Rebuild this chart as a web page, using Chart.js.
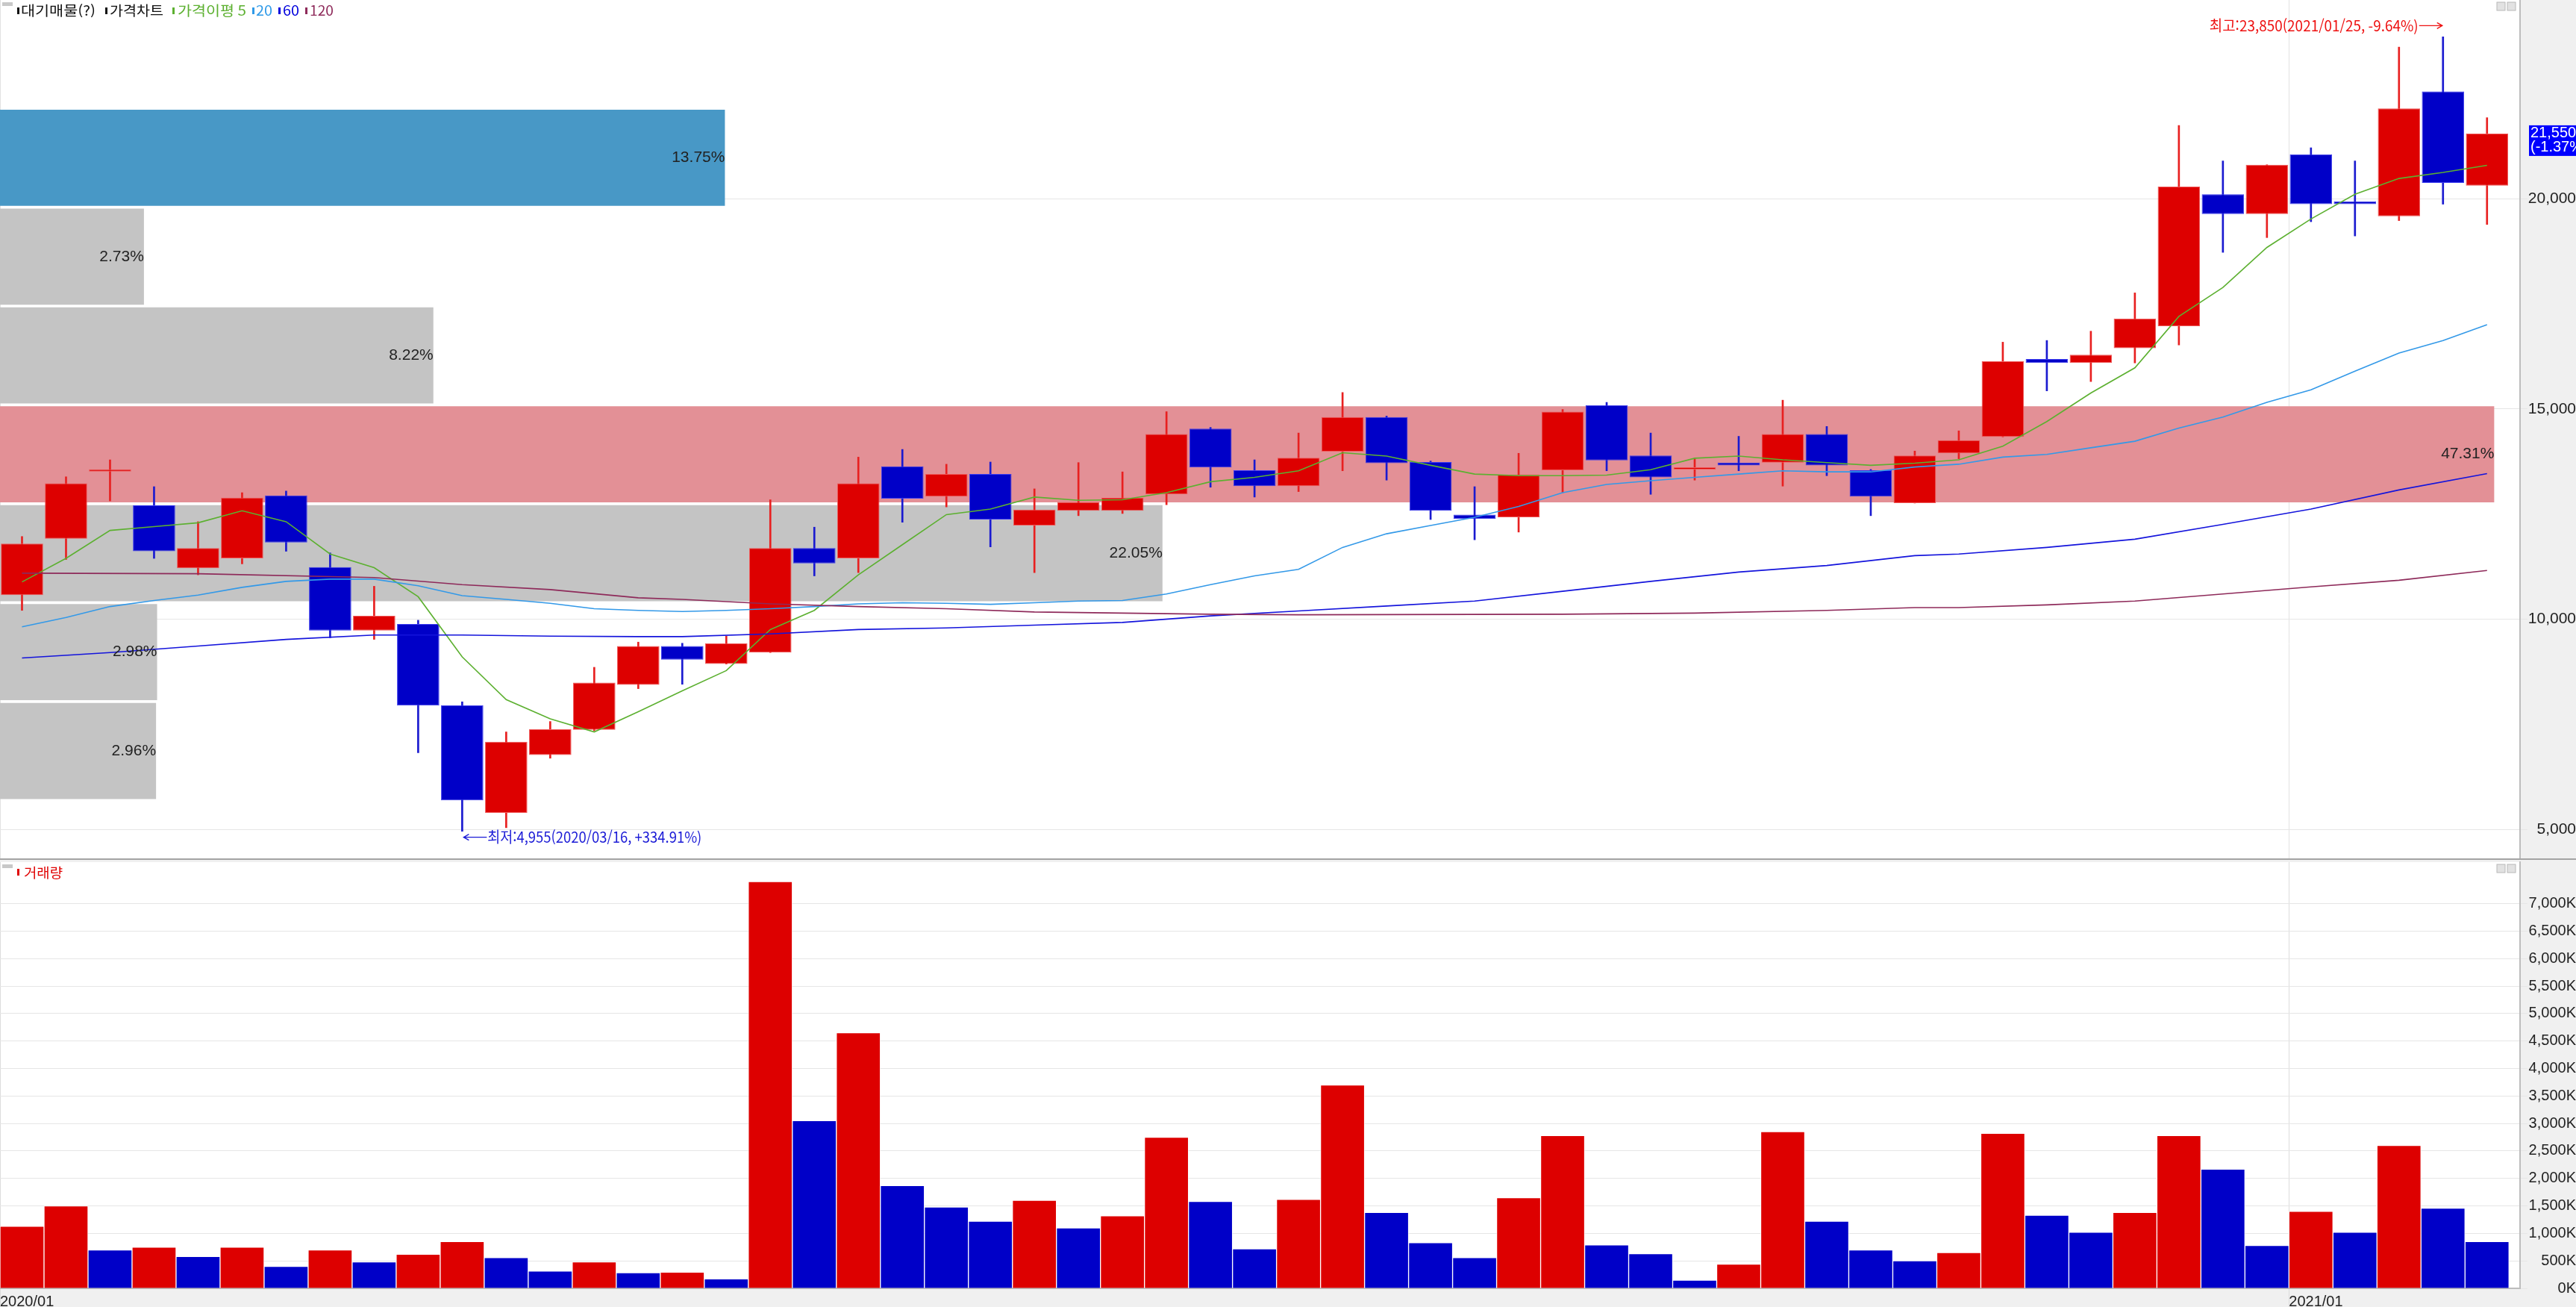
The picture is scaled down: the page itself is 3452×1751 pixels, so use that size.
<!DOCTYPE html>
<html lang="ko">
<head>
<meta charset="UTF-8">
<title>가격차트</title>
<script src="https://cdn.jsdelivr.net/npm/chart.js"></script>
<style>
  body { margin: 0; background: #f0f0f0; width: 3452px; height: 1751px; overflow: hidden; }
  .panel { position: absolute; left: 0; width: 3452px; }
  #pricePanel { top: 0; height: 1150px; }
  #volPanel { top: 1152px; height: 599px; }
  .sep { position: absolute; left: 0; width: 3452px; top: 1150px; height: 2px; background: #a4a4a4; }
</style>
</head>
<body>
<div class="panel" id="pricePanel"><canvas id="priceChart"></canvas></div>
<div class="sep"></div>
<div class="panel" id="volPanel"><canvas id="volChart"></canvas></div>
<script>
// 주봉 데이터 2020/01/06 ~ 2021/02
const opens  = [10573,11914,13510,12709,11211,11446,12943,11237,9727,9883, 7956,5391,6771,7370,8438,9362,8933,9206,11693,11446, 13633,12917,13451,12227,12578,12578,12969,14531,13542,13164, 13984,14805,13737,12487,12422,13542,15091,13893,13560,13724, 13724,14401,13542,12761,13945,14336,16185,16094,16445,16966, 20104,19635,21054,19935,19583,22552,20312];
const highs  = [11966,13386,13789,13151,12318,13008,13047,11576,10782,9974, 8034,7318,7566,8855,9454,9427,9597,12839,12188,13854, 14037,13685,13737,13099,13724,13503,14935,14560,13789,14427, 15391,14830,13760,13151,13945,14987,15156,14427,13815,14349, 15208,14583,13560,13998,14479,16588,16628,16849,17760,21744, 20898,20807,21211,20898,23606,23850,21927];
const lows   = [10209,11420,12813,11446,11055,11315,11615,9558,9519,6823, 4955,5040,6693,7344,8347,8451,8933,9206,11029,11107, 12305,12669,11719,11107,12461,12513,12722,13138,12904,13034, 13529,13307,12370,11888,12071,13008,13529,12969,13307,13529, 13164,13412,12461,12761,13815,14336,15430,15651,16094,16523, 18724,19075,19453,19114,19479,19870,19388];
const closes = [11797,13229,13530,11615,11693,12891,11823,9727,10079,7943, 5691,7084,7383,8490,9362,9037,9427,11693,11328,13229, 12865,13451,12370,12604,12787,12891,14401,13607,13164,13841, 14805,13711,12578,12383,13438,14935,13776,13373,13575,13659, 14401,13659,12917,13893,14258,16133,16094,16289,17148,20286, 19635,20807,19870,19870,22148,20377,21550];

// 이동평균 (그림에서 읽은 값, 60/120은 읽은 지점만)
const ma5   = [10886,11446,12110,12201,12292,12578,12318,11550,11224,10534, 9102,8086,7631,7318,7800,8295,8776,9753,10209,11055, 11771,12487,12617,12904,12826,12839,13008,13268,13373,13529, 13958,13880,13659,13451,13412,13412,13425,13555,13828,13880, 13789,13724,13659,13711,13789,14115,14701,15378,15977,17200, 17890,18841,19518,20104,20481,20625,20794];
const ma20  = [9818,10039,10300,10443,10573,10756,10899,10951,10951,10795, 10560,10469,10378,10248,10209,10183,10209,10248,10300,10365, 10391,10378,10352,10391,10430,10443,10599,10821,11029,11185, 11706,12031,12227,12422,12682,13008,13203,13294,13373,13451, 13529,13503,13503,13620,13685,13854,13919,14076,14232,14544, 14805,15156,15456,15898,16328,16628,17005];
const ma60  = [9076,null,9206,null,9362,null,9518,null,9623,null, 9623,null,9597,null,9584,9584,null,9649,null,9753, null,9792,null,9857,null,9922,null,10078,null,10196, null,10313,null,10430,null,10664,null,10899,null,11120, null,11276,null,11511,11550,null,11706,null,11901,null, 12253,null,12617,null,13073,null,13463];
const ma120 = [11094,null,null,null,11081,null,null,null,10990,null, 10821,null,10704,null,10508,10469,null,10365,null,10300, null,10248,null,10170,null,10144,null,10118,null,10105, null,null,null,null,null,10118,null,null,10144,null, null,10209,null,10274,10274,null,10339,null,10430,null, 10599,null,10769,null,10925,null,11159];

// 거래량 (K) 과 막대 색 (1 = 빨강, 0 = 파랑)
const volumes = [1130,1500,700,750,580,750,400,700,480,620, 850,560,315,480,284,294,172,7400,3050,4650, 1870,1480,1220,1600,1100,1320,2750,1580,720,1620, 3700,1380,830,560,1650,2780,790,630,149,440, 2850,1220,700,500,650,2820,1330,1020,1380,2780, 2170,780,1400,1020,2600,1460,850];
const volUp   = [1,1,0,1,0,1,0,1,0,1, 1,0,0,1,0,1,0,1,0,1, 0,0,0,1,0,1,1,0,0,1, 1,0,0,0,1,1,0,0,0,1, 1,0,0,0,1,1,0,0,1,1, 0,0,1,0,1,0,0];

// 대기매물 구간 (아래에서 위로)
const bandEdges = [5690,8041,10393,12744,15096,17447,19799,22150];
const bandPct   = [2.96,2.98,22.05,47.31,8.22,2.73,13.75];

const priceTicks = [5000,10000,15000,20000];
const volTicks   = [0,500,1000,1500,2000,2500,3000,3500,4000,4500,5000,5500,6000,6500,7000];
const xTickPos   = [-0.5,51.5];
const xTickText  = ['2020/01','2021/01'];

const hiDate = '2021/01/25', hiChg = '-9.64%';
const loDate = '2020/03/16', loChg = '+334.91%';
const lastChg = '(-1.37%)';

const NARROW = "'Liberation Sans Narrow','Liberation Sans',sans-serif";
const MIXED = "'Liberation Sans Narrow','Noto Sans CJK KR',sans-serif";
Chart.defaults.font.family = NARROW;
Chart.defaults.animation = false;

const RED = '#dd0000', BLUE = '#0000c8';
const idx = closes.map((c, i) => i);
const up = closes.map((c, i) => c >= opens[i]);
const fmt = v => v.toLocaleString('en-US');

function fitText(ctx, text, x, y, w, font, color, align) {
  ctx.save();
  ctx.font = font;
  ctx.fillStyle = color;
  ctx.textBaseline = 'middle';
  ctx.textAlign = 'left';
  const m = ctx.measureText(text).width;
  ctx.translate(align === 'right' ? x - w : x, y);
  ctx.scale(w / m, 1);
  ctx.fillText(text, 0, 0);
  ctx.restore();
}

function arrow(ctx, x1, x2, y, dir, color) {
  ctx.save();
  ctx.strokeStyle = color;
  ctx.lineWidth = 1.4;
  ctx.beginPath();
  ctx.moveTo(x1, y); ctx.lineTo(x2, y);
  const tip = dir > 0 ? x2 : x1;
  ctx.moveTo(tip - dir * 7, y - 4); ctx.lineTo(tip, y); ctx.lineTo(tip - dir * 7, y + 4);
  ctx.stroke();
  ctx.restore();
}

function cornerBits(ctx, right, top) {
  ctx.save();
  ctx.fillStyle = '#c8c8c8';
  ctx.fillRect(3, top, 14, 5);
  ctx.strokeStyle = '#b8b8b8';
  ctx.fillStyle = '#e2e2e2';
  ctx.fillRect(right - 31, top, 11, 11); ctx.strokeRect(right - 31, top, 11, 11);
  ctx.fillRect(right - 17, top, 11, 11); ctx.strokeRect(right - 17, top, 11, 11);
  ctx.restore();
}

// 축 라벨 때문에 생기는 여백 없애기
const noPadY = s => { s.width = 75; s.paddingTop = 0; s.paddingBottom = 0; };
const noPadX = h => s => { s.height = h; s.paddingLeft = 0; s.paddingRight = 0; };

const whiteArea = {
  id: 'whiteArea',
  beforeDraw(chart) {
    const a = chart.chartArea, ctx = chart.ctx;
    ctx.save();
    ctx.fillStyle = '#ffffff';
    ctx.fillRect(a.left, a.top, a.right - a.left, a.bottom - a.top);
    ctx.restore();
  }
};

const priceOverlay = {
  id: 'priceOverlay',
  afterDatasetsDraw(chart) {
    const ctx = chart.ctx;
    // 대기매물 % 라벨
    chart.getDatasetMeta(0).data.forEach((bar, i) => {
      ctx.save();
      ctx.font = '21px ' + NARROW;
      ctx.fillStyle = '#222';
      ctx.textAlign = 'right';
      ctx.textBaseline = 'middle';
      ctx.fillText(bandPct[i].toFixed(2) + '%', bar.x, bar.y);
      ctx.restore();
    });
  },
  afterDraw(chart) {
    const ctx = chart.ctx, xs = chart.scales.x, ys = chart.scales.y, a = chart.chartArea;
    cornerBits(ctx, a.right, 3);

    // 범례
    const items = [
      [23, 28, 100, '대기매물(?)', '#111'],
      [141, 147, 72, '가격차트', '#111'],
      [231, 238, 92, '가격이평 5', '#5cb030'],
      [338, 343, 22, '20', '#2f9ae8'],
      [373, 379, 22, '60', '#0000dd'],
      [409, 415, 32, '120', '#8e2a5a']
    ];
    items.forEach(it => {
      ctx.fillStyle = it[4];
      ctx.fillRect(it[0], 10, 3, 9);
      fitText(ctx, it[3], it[1], 14.5, it[2], '18px ' + MIXED, it[4]);
    });

    // 최고 / 최저
    const hi = Math.max(...highs), hiI = highs.indexOf(hi);
    const lo = Math.min(...lows), loI = lows.indexOf(lo);
    const hx = xs.getPixelForValue(hiI), hy = ys.getPixelForValue(hi) - 15;
    arrow(ctx, hx - 32, hx - 1, hy, 1, '#ee1111');
    fitText(ctx, '최고:' + fmt(hi) + '(' + hiDate + ', ' + hiChg + ')', hx - 33, hy, 280, '20px ' + MIXED, '#ee1111', 'right');
    const lx = xs.getPixelForValue(loI), ly = ys.getPixelForValue(lo) + 8;
    arrow(ctx, lx + 2, lx + 33, ly, -1, '#1a1ad6');
    fitText(ctx, '최저:' + fmt(lo) + '(' + loDate + ', ' + loChg + ')', lx + 34, ly, 287, '20px ' + MIXED, '#1a1ad6');

    // 현재가 박스
    const last = closes[closes.length - 1];
    const cy = ys.getPixelForValue(last);
    ctx.save();
    ctx.fillStyle = '#0000ff';
    ctx.fillRect(a.right + 12, cy - 11, 80, 41);
    ctx.fillStyle = '#ffffff';
    ctx.font = '20px ' + NARROW;
    ctx.textBaseline = 'middle';
    ctx.fillText(fmt(last), a.right + 14, cy - 0.5);
    ctx.fillText(lastChg, a.right + 14, cy + 19);
    ctx.restore();
  }
};

const volOverlay = {
  id: 'volOverlay',
  afterDraw(chart) {
    const ctx = chart.ctx, a = chart.chartArea;
    cornerBits(ctx, a.right, 6);
    ctx.fillStyle = '#e00000';
    ctx.fillRect(23, 12, 3, 9);
    fitText(ctx, '거래량', 32, 17, 52, '18px ' + MIXED, '#e00000');
  }
};

const xMin = -0.5, xMax = 56.75;
const linesFrom = arr => arr.map((v, i) => ({ x: i, y: v }));
const maLine = (arr, color) => ({
  type: 'line', xAxisID: 'x', yAxisID: 'y', data: linesFrom(arr),
  borderColor: color, borderWidth: 1.6, pointRadius: 0, tension: 0, spanGaps: true, order: 1
});

new Chart(document.getElementById('priceChart'), {
  type: 'bar',
  data: {
    datasets: [
      {
        type: 'bar', indexAxis: 'y', xAxisID: 'xb', yAxisID: 'yb',
        data: bandPct.map((p, i) => ({ x: p, y: (bandEdges[i] + bandEdges[i + 1]) / 2 })),
        backgroundColor: bandPct.map((p, i) => {
          if (p === Math.max(...bandPct)) return '#e39096';
          const last = closes[closes.length - 1];
          if (last >= bandEdges[i] && last < bandEdges[i + 1]) return '#4898c6';
          return '#c4c4c4';
        }),
        barPercentage: 0.972, categoryPercentage: 1, grouped: false, order: 10
      },
      {
        type: 'bar', xAxisID: 'x', yAxisID: 'y',
        data: idx.map(i => ({ x: i, y: [lows[i], highs[i]] })),
        backgroundColor: up.map(u => u ? '#e82020' : '#1a1ad0'),
        barThickness: 2, grouped: false, order: 6
      },
      {
        type: 'bar', xAxisID: 'x', yAxisID: 'y',
        data: idx.map(i => ({ x: i, y: [opens[i], closes[i]] })),
        backgroundColor: up.map(u => u ? RED : BLUE),
        borderColor: up.map(u => u ? '#f05a5a' : '#3c3cf0'),
        borderWidth: 1, borderSkipped: false, minBarLength: 3,
        barPercentage: 0.96, categoryPercentage: 1, grouped: false, order: 5
      },
      maLine(ma120, '#8e2a5a'),
      maLine(ma60, '#1414dc'),
      maLine(ma20, '#3399e8'),
      maLine(ma5, '#5cb030')
    ]
  },
  options: {
    responsive: true,
    maintainAspectRatio: false,
    layout: { padding: 0 },
    plugins: { legend: { display: false }, tooltip: { enabled: false } },
    scales: {
      x: {
        type: 'linear', axis: 'x', position: 'bottom', min: xMin, max: xMax, offset: false,
        grid: { offset: false, color: '#e2e2e2', drawTicks: false },
        border: { display: false },
        ticks: { display: false },
        afterBuildTicks: s => { s.ticks = xTickPos.map(v => ({ value: v })); },
        afterFit: noPadX(0)
      },
      y: {
        type: 'linear', axis: 'y', position: 'right', min: 4310, max: 24726,
        grid: { color: '#e6e6e6', tickLength: 10 },
        border: { color: '#bdbdbd', width: 2 },
        ticks: { font: { size: 21 }, color: '#222', crossAlign: 'far', padding: 4, autoSkip: false, callback: v => fmt(v) },
        afterBuildTicks: s => { s.ticks = priceTicks.map(v => ({ value: v })); },
        afterFit: noPadY
      },
      xb: { type: 'linear', axis: 'x', position: 'bottom', display: false, min: 0, max: 47.8, offset: false },
      yb: {
        type: 'linear', axis: 'y', position: 'left', display: false, min: 4310, max: 24726, offset: false,
        afterBuildTicks: s => { s.ticks = []; }
      }
    }
  },
  plugins: [whiteArea, priceOverlay]
});

new Chart(document.getElementById('volChart'), {
  type: 'bar',
  data: {
    datasets: [{
      data: volumes.map((v, i) => ({ x: i, y: v })),
      backgroundColor: volUp.map(u => u ? RED : BLUE),
      borderColor: 'rgba(255,255,255,0.75)', borderWidth: 1,
      barPercentage: 1, categoryPercentage: 1, grouped: false
    }]
  },
  options: {
    responsive: true,
    maintainAspectRatio: false,
    layout: { padding: { top: 3 } },
    plugins: { legend: { display: false }, tooltip: { enabled: false } },
    scales: {
      x: {
        type: 'linear', min: xMin, max: xMax, offset: false,
        grid: { offset: false, color: '#dcdcdc', tickLength: 25 },
        border: { color: '#bdbdbd', width: 2 },
        ticks: { font: { size: 20 }, color: '#222', align: 'start', padding: -19, maxRotation: 0, autoSkip: false,
                 callback: v => xTickText[xTickPos.indexOf(v)] },
        afterBuildTicks: s => { s.ticks = xTickPos.map(v => ({ value: v })); },
        afterFit: noPadX(25)
      },
      y: {
        type: 'linear', position: 'right', min: 0, max: 7755,
        grid: { color: '#e6e6e6', tickLength: 10 },
        border: { color: '#bdbdbd', width: 2 },
        ticks: { font: { size: 20 }, color: '#222', crossAlign: 'far', padding: 4, autoSkip: false, callback: v => fmt(v) + 'K' },
        afterBuildTicks: s => { s.ticks = volTicks.map(v => ({ value: v })); },
        afterFit: noPadY
      }
    }
  },
  plugins: [whiteArea, volOverlay]
});
</script>
</body>
</html>
